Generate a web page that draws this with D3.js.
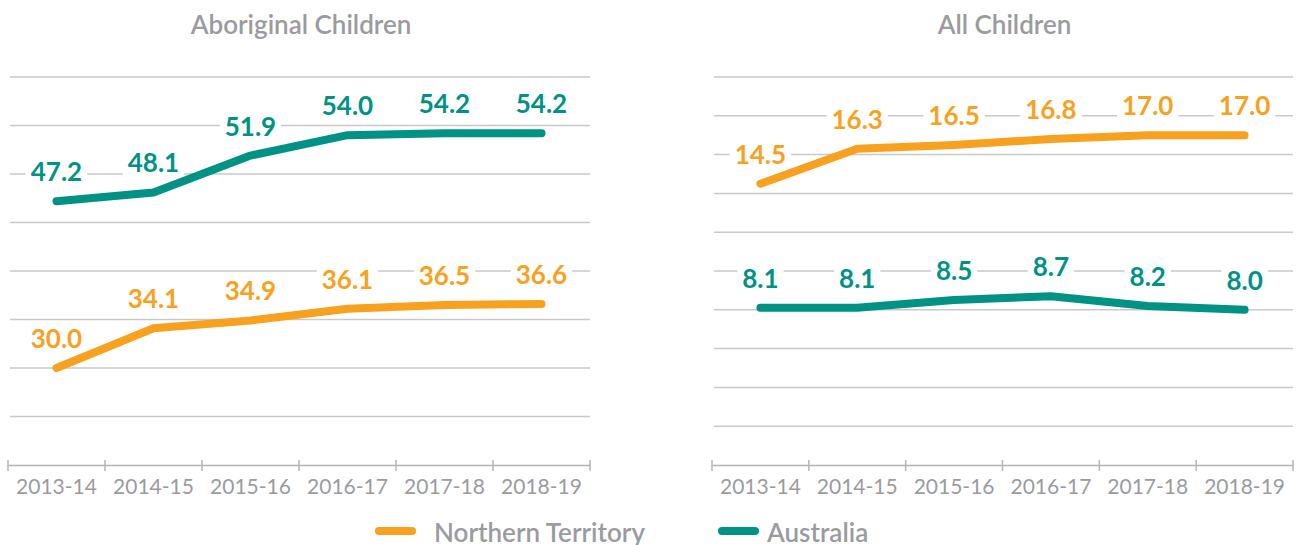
<!DOCTYPE html>
<html><head><meta charset="utf-8">
<script src="https://cdn.jsdelivr.net/npm/d3@7"></script>
<style>
html,body{margin:0;padding:0;background:#fff;}
svg{display:block;font-family:Lato,"Open Sans",sans-serif;}
</style></head>
<body><svg id="chart" width="1296" height="545"></svg>
<script>
const years = ["2013-14","2014-15","2015-16","2016-17","2017-18","2018-19"];
const aboriginalNT = [30.0,34.1,34.9,36.1,36.5,36.6];
const aboriginalAus = [47.2,48.1,51.9,54.0,54.2,54.2];
const allNT = [14.5,16.3,16.5,16.8,17.0,17.0];
const allAus = [8.1,8.1,8.5,8.7,8.2,8.0];
const panelTitles = ["Aboriginal Children","All Children"];
const leftDomain = [20,60], leftTicks = [25,30,35,40,45,50,55,60];
const rightDomain = [0,20], rightTicks = [2,4,6,8,10,12,14,16,18,20];
const seriesNames = ["Northern Territory","Australia"];

const ORANGE = "#f8a11f", TEAL = "#009284", GREY = "#9a9b9f", GRID = "#c9c9c9";
const svg = d3.select("#chart");

const panels = [
  {title: panelTitles[0], x0: 8, x1: 590, domain: leftDomain, ticks: leftTicks, nt: aboriginalNT, aus: aboriginalAus},
  {title: panelTitles[1], x0: 712, x1: 1293, domain: rightDomain, ticks: rightTicks, nt: allNT, aus: allAus}
];
const yTop = 77, yBot = 465;

panels.forEach(p => {
  const g = svg.append("g");
  const x = d3.scaleBand().domain(years).range([p.x0, p.x1]).padding(0);
  const y = d3.scaleLinear().domain(p.domain).range([yBot, yTop]);
  const cx = d => x(d) + x.bandwidth()/2;

  // title
  g.append("text").attr("x", (p.x0 + p.x1)/2 + 2).attr("y", 34)
    .attr("text-anchor","middle").attr("font-size", 26).attr("font-weight", 600)
    .attr("fill", GREY).text(p.title);

  // gridlines
  g.selectAll(".grid").data(p.ticks).enter().append("line")
    .attr("x1", p.x0 + 2).attr("x2", p.x1).attr("y1", d => y(d)).attr("y2", d => y(d))
    .attr("stroke", GRID).attr("stroke-width", 1.5);

  // x axis
  const ax = g.append("g").attr("transform", `translate(0,${yBot})`)
    .call(d3.axisBottom(x).tickSize(0).tickPadding(14));
  ax.select(".domain").attr("stroke", "#b5b5b5").attr("stroke-width", 1.5);
  ax.selectAll("text").attr("font-family","Lato,sans-serif").attr("font-size", 21).attr("fill", GREY);
  const bounds = years.map(d => x(d)).concat([p.x1]);
  g.selectAll(".bt").data(bounds).enter().append("line")
    .attr("x1", d => d).attr("x2", d => d).attr("y1", yBot - 5).attr("y2", yBot + 6)
    .attr("stroke", "#b5b5b5").attr("stroke-width", 1.5);

  const line = d3.line().x((d,i) => cx(years[i])).y(d => y(d));
  [[p.nt, ORANGE],[p.aus, TEAL]].forEach(([vals, col]) => {
    g.append("path").attr("d", line(vals)).attr("fill","none").attr("stroke", col)
      .attr("stroke-width", 8).attr("stroke-linecap","round").attr("stroke-linejoin","round");
  });
  [[p.nt, ORANGE],[p.aus, TEAL]].forEach(([vals, col]) => {
    vals.forEach((v,i) => {
      const lg = g.append("g");
      const t = lg.append("text").attr("x", cx(years[i])).attr("y", y(v) - 20)
        .attr("text-anchor","middle").attr("font-size", 26).attr("font-weight", 700)
        .attr("fill", col).text(v.toFixed(1));
      const bb = t.node().getBBox();
      lg.insert("rect","text").attr("x", bb.x - 5).attr("y", bb.y + 3).attr("width", bb.width + 10)
        .attr("height", bb.height - 6).attr("fill", "#fff");
    });
  });
});

// legend
const legend = [{name: seriesNames[0], col: ORANGE, x: 379, tx: 434}, {name: seriesNames[1], col: TEAL, x: 722, tx: 767}];
legend.forEach(l => {
  svg.append("line").attr("x1", l.x).attr("x2", l.x + 33).attr("y1", 531).attr("y2", 531)
    .attr("stroke", l.col).attr("stroke-width", 8).attr("stroke-linecap","round");
  svg.append("text").attr("x", l.tx).attr("y", 542)
    .attr("font-size", 26).attr("font-weight", 600).attr("fill", GREY).text(l.name);
});
</script></body></html>
